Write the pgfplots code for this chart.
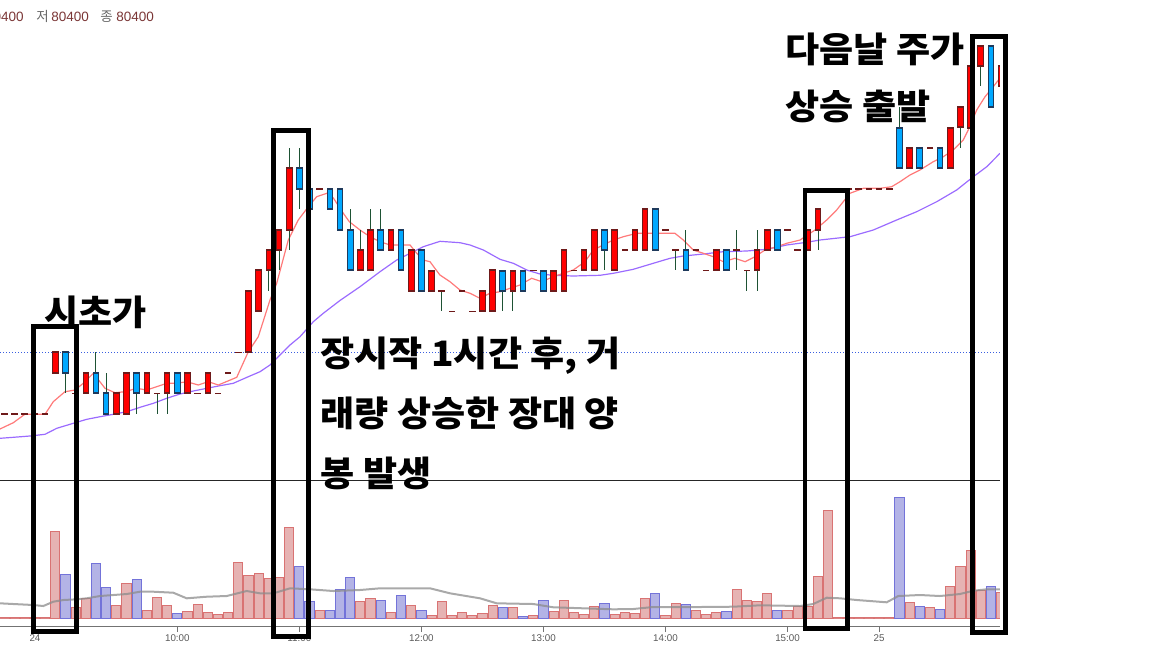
\documentclass[border=0pt]{standalone}
\usepackage{fontspec}
\setmainfont{Liberation Sans}
\newfontfamily\kr{Noto Sans CJK KR}
\newfontfamily\krw{Noto Sans CJK KR}[FakeStretch=1.06]
\usepackage{pgfplots}
\usepackage{pgfplotstable}
\pgfplotsset{compat=1.18}

\definecolor{upfill}{HTML}{FF0000}
\definecolor{upedge}{HTML}{6E1A1A}
\definecolor{dnfill}{HTML}{00A8FF}
\definecolor{dnedge}{HTML}{1E3A5C}
\definecolor{wick}{HTML}{1E5234}
\definecolor{flatc}{HTML}{6E1A1A}
\definecolor{maA}{HTML}{FF7A7A}
\definecolor{maB}{HTML}{9B6BFF}
\definecolor{vrf}{HTML}{E6B3B3}
\definecolor{vre}{HTML}{D97373}
\definecolor{vbf}{HTML}{B3B3E6}
\definecolor{vbe}{HTML}{7373D9}
\definecolor{refblue}{HTML}{3A5FE0}
\definecolor{numc}{HTML}{7A3535}

% volume pane lives below the price pane: base level and scale (price units per volume unit)
\def\vbase{79.39901}
\def\vsc{0.00489}

\pgfplotsset{
  wickplot/.style={draw=none, mark=none, forget plot,
    error bars/.cd, y dir=both, y explicit, error mark=none,
    error bar style={solid, draw=wick, line width=0.5pt}},
  bodyplot/.style 2 args={draw=none, mark=none, forget plot,
    error bars/.cd, y dir=both, y explicit, error mark=none,
    error bar style={solid, draw=#1, line width=#2}},
}

% prices in thousand won: index, open, high, low, close
\pgfplotstableread{
i o h l c
0 80.6 80.7 80.6 80.7
3 80.5 80.6 80.5 80.6
6 80.4 80.5 80.4 80.5
7 80.4 80.6 80.4 80.6
9 80.5 80.6 80.5 80.6
11 80.5 80.6 80.4 80.6
13 80.5 80.6 80.5 80.6
15 80.5 80.6 80.5 80.6
19 80.7 81.0 80.7 81.0
20 80.9 81.1 80.9 81.1
21 81.1 81.2 81.0 81.2
22 81.2 81.3 81.1 81.3
23 81.3 81.7 81.2 81.6
30 81.1 81.3 81.1 81.2
31 81.1 81.4 81.1 81.3
33 81.2 81.3 81.2 81.3
35 81.0 81.2 81.0 81.2
37 81.0 81.1 81.0 81.1
42 80.9 81.0 80.9 81.0
43 80.9 81.1 80.9 81.1
45 81.0 81.1 80.9 81.1
49 81.0 81.1 81.0 81.1
50 81.0 81.2 81.0 81.2
52 81.1 81.2 81.1 81.2
53 81.1 81.3 81.1 81.3
55 81.1 81.3 81.1 81.3
57 81.2 81.3 81.2 81.3
58 81.2 81.4 81.2 81.4
65 81.1 81.2 81.1 81.2
69 81.1 81.3 81.0 81.2
70 81.2 81.3 81.2 81.3
74 81.2 81.3 81.2 81.3
75 81.3 81.4 81.2 81.4
84 81.6 81.7 81.6 81.7
88 81.6 81.8 81.6 81.8
89 81.8 81.9 81.7 81.9
90 81.8 82.1 81.8 82.1
91 82.1 82.2 82.0 82.2
93 82.0 82.1 82.0 82.1
}\upCandles

\pgfplotstableread{
i o h l c
1 80.7 80.7 80.5 80.6
4 80.6 80.7 80.5 80.5
5 80.5 80.6 80.4 80.4
8 80.6 80.6 80.4 80.5
12 80.6 80.6 80.5 80.5
24 81.6 81.7 81.4 81.5
25 81.5 81.5 81.4 81.4
27 81.5 81.5 81.4 81.4
28 81.5 81.5 81.3 81.3
29 81.3 81.4 81.1 81.1
32 81.3 81.4 81.2 81.2
34 81.3 81.3 81.1 81.1
36 81.2 81.2 81.0 81.0
44 81.1 81.1 80.9 81.0
46 81.1 81.1 81.0 81.0
48 81.1 81.1 81.0 81.0
54 81.3 81.3 81.1 81.2
59 81.4 81.4 81.2 81.2
62 81.2 81.3 81.1 81.1
66 81.2 81.2 81.1 81.1
71 81.3 81.3 81.2 81.2
83 81.8 81.9 81.6 81.6
85 81.7 81.7 81.6 81.6
87 81.7 81.7 81.6 81.6
92 82.2 82.2 81.9 81.9
}\dnCandles

\pgfplotstableread{
i o h l c
-5 80.4 80.4 80.4 80.4
-4 80.4 80.4 80.4 80.4
-3 80.4 80.4 80.4 80.4
-2 80.4 80.4 80.4 80.4
-1 80.4 80.4 80.4 80.4
2 80.5 80.5 80.5 80.5
10 80.5 80.5 80.4 80.5
14 80.5 80.5 80.5 80.5
16 80.5 80.5 80.5 80.5
17 80.6 80.6 80.6 80.6
18 80.7 80.7 80.7 80.7
26 81.5 81.5 81.5 81.5
38 81.0 81.0 80.9 81.0
39 80.9 80.9 80.9 80.9
40 81.0 81.0 81.0 81.0
41 80.9 80.9 80.9 80.9
47 81.1 81.1 81.1 81.1
51 81.1 81.1 81.1 81.1
56 81.2 81.2 81.2 81.2
60 81.3 81.3 81.3 81.3
61 81.2 81.2 81.1 81.2
63 81.2 81.2 81.2 81.2
64 81.1 81.1 81.1 81.1
67 81.2 81.3 81.1 81.2
68 81.1 81.1 81.0 81.1
72 81.3 81.3 81.3 81.3
73 81.2 81.2 81.2 81.2
78 81.5 81.5 81.5 81.5
79 81.5 81.5 81.5 81.5
80 81.5 81.5 81.5 81.5
81 81.5 81.5 81.5 81.5
82 81.5 81.5 81.5 81.5
86 81.7 81.7 81.7 81.7
}\flatCandles

\pgfplotstableread{
i p
-5.44 80.3247
-4.13 80.3555
-3.00 80.3966
-1.01 80.3966
-0.20 80.4582
0.95 80.5071
1.94 80.5154
2.75 80.5482
3.74 80.5971
4.89 80.5237
5.87 80.5022
6.85 80.5071
8.00 80.5237
8.99 80.5154
9.97 80.5315
10.95 80.5482
11.94 80.5482
12.92 80.5560
14.06 80.5399
15.04 80.5560
16.03 80.5399
17.84 80.5775
18.98 80.7027
19.96 80.7760
21.11 80.9555
21.77 81.0372
22.91 81.2489
23.89 81.3467
24.88 81.4117
25.70 81.4606
26.69 81.4773
27.34 81.4543
28.32 81.3795
28.91 81.3384
29.96 81.2978
30.94 81.2650
31.93 81.2406
32.91 81.2245
34.88 81.2245
35.54 81.1839
36.18 81.1511
36.84 81.1428
37.82 81.0778
38.81 81.0450
39.79 81.0044
40.78 80.9883
41.76 80.9638
42.74 80.9883
43.73 80.9961
44.71 81.0127
45.69 81.0289
46.84 81.0616
47.83 81.0450
48.97 81.0694
49.95 81.0861
50.93 81.1022
52.08 81.1428
52.90 81.2000
53.88 81.2245
54.87 81.2489
55.85 81.2650
57.17 81.2817
60.93 81.2817
61.75 81.2489
62.73 81.2000
63.72 81.1839
64.70 81.1672
65.68 81.1428
66.83 81.1594
67.82 81.1428
68.80 81.1672
69.78 81.2000
70.93 81.2161
71.92 81.2328
73.23 81.2489
74.70 81.2978
75.85 81.3467
76.83 81.3956
78.14 81.4773
79.45 81.5017
81.09 81.5017
82.24 81.5095
83.06 81.5340
84.04 81.5668
85.02 81.5912
86.33 81.6318
87.32 81.6562
88.30 81.6890
89.28 81.7379
89.77 81.7868
90.60 81.8846
91.42 81.9496
92.23 81.9985
92.89 82.0411
}\maFive

\pgfplotstableread{
i p
-5.44 80.2792
-4.13 80.2841
-2.49 80.2905
-1.01 80.2988
0.14 80.3281
1.77 80.3526
3.09 80.3721
4.40 80.3848
5.70 80.3966
7.02 80.4093
8.33 80.4308
9.64 80.4504
10.95 80.4748
12.26 80.4958
13.57 80.5105
14.89 80.5237
16.19 80.5364
17.50 80.5482
19.14 80.5839
20.13 80.6049
21.11 80.6377
22.10 80.6866
23.08 80.7355
24.06 80.7760
25.37 80.8494
26.35 80.8905
27.99 80.9531
29.96 81.0205
31.93 81.0939
33.57 81.1511
34.88 81.1839
36.18 81.2161
37.83 81.2425
39.79 81.2357
40.78 81.2245
42.09 81.2000
43.73 81.1545
45.03 81.1350
46.35 81.1022
47.66 81.0826
48.97 81.0763
50.93 81.0729
53.56 81.0763
54.87 81.0861
56.83 81.1056
58.80 81.1350
60.44 81.1594
61.75 81.1707
63.72 81.1804
65.68 81.1917
67.98 81.1951
69.95 81.2034
71.92 81.2245
73.88 81.2377
75.19 81.2489
78.14 81.2650
80.43 81.2978
82.73 81.3467
84.70 81.3873
86.67 81.4362
88.63 81.4934
90.27 81.5584
91.59 81.6073
92.89 81.6729
}\maTwenty

\pgfplotstableread{
i v
-5 1
-4 1
-3 1
-2 1
-1 1
0 87.3
2 11.3
3 20
6 13
7 35
9 8.3
10 21
11 13
13 7.3
14 14
15 6.3
16 4
17 6.3
18 56.3
19 43
20 45
21 40
22 41
23 91
26 8.3
30 17
31 20.3
33 6
35 13
37 3
38 17
39 3
40 6
41 3
42 5
43 13
45 11
47 3
49 7
50 18
51 6
52 4
53 12
55 4
56 6
57 5
58 20
60 3
61 15
63 8
64 4
65 6
67 29
68 18
69 17
70 25
72 8
73 12.3
74 12.3
75 42
76 108
77 1
78 1
79 1
80 1
81 1
82 1
84 16
86 11
88 32
89 52
90 68
91 28
93 26
}\volUp

\pgfplotstableread{
i v
1 44
4 55
5 31
8 39
12 5
24 52
25 17
27 8.3
28 29
29 41
32 18
34 23.3
36 8
44 11
46 2
48 18
54 15
59 25
62 14
66 7
71 8
83 121
85 12
87 9
92 32
}\volDown

\pgfplotstableread{
i v
-5.44 15
-4.13 14.3
-2.16 13.3
-1.18 12.3
-0.20 16.6
0.79 18.3
2.10 19
3.09 20
4.40 22.3
5.70 23.3
7.02 24.3
8.33 26.6
9.64 26.6
11.60 25.6
12.92 20
14.89 21.6
16.85 22.3
18.82 27.3
20.13 25
21.44 25
23.08 30
25.05 29
27.34 27.3
29.96 28.3
31.93 30
34.88 30
36.84 30
38.81 25
41.76 20
43.40 15
47.00 14.3
48.97 11
51.92 10
54.87 9
56.83 9.3
58.80 11.3
63.39 11.3
66.67 11.6
69.29 13
73.23 12.3
74.53 14.3
75.85 20.6
77.16 20
78.80 18.3
81.75 16
82.89 22.3
85.02 23.3
86.99 22.3
88.96 24.3
90.27 27.6
91.59 29
92.89 29
}\volMA

\begin{document}
\begin{tikzpicture}[x=1pt,y=1pt]

\begin{axis}[name=ax, at={(0,0)}, anchor=north west, scale only axis,
  width=500pt, height=313pt,
  xmin=-5.4376, xmax=92.89, ymin=79.3614, ymax=82.4225,
  axis x line=bottom, axis y line=none,
  axis line style={-, draw=black!55, line width=0.5pt},
  xtick={-2,12,24,36,48,60,72,81},
  xticklabels={\mbox{24},\mbox{10:00},\mbox{11:00},\mbox{12:00},\mbox{13:00},\mbox{14:00},\mbox{15:00},\mbox{25}},
  tick align=outside, major tick length=3pt,
  tick style={draw=black!55, line width=0.5pt},
  xticklabel style={font=\fontsize{4.9}{6}\selectfont, text=black!65, inner sep=1pt},
  ytick=\empty, clip=true]
  % volume pane
  \addplot[draw=none, mark=none, forget plot, error bars/.cd, y dir=both, y explicit, error mark=none,
    error bar style={solid, draw=vre, line width=5.085pt}]
    table[x=i, y expr={\vbase+0.5*\vsc*\thisrow{v}}, y error expr={0.5*\vsc*\thisrow{v}+0.00245}] {\volUp};
  \addplot[draw=none, mark=none, forget plot, error bars/.cd, y dir=both, y explicit, error mark=none,
    error bar style={solid, draw=vrf, line width=4.085pt}]
    table[x=i, y expr={\vbase+0.5*\vsc*\thisrow{v}}, y error expr={0.5*\vsc*\thisrow{v}-0.00245}] {\volUp};
  \addplot[draw=none, mark=none, forget plot, error bars/.cd, y dir=both, y explicit, error mark=none,
    error bar style={solid, draw=vbe, line width=5.085pt}]
    table[x=i, y expr={\vbase+0.5*\vsc*\thisrow{v}}, y error expr={0.5*\vsc*\thisrow{v}+0.00245}] {\volDown};
  \addplot[draw=none, mark=none, forget plot, error bars/.cd, y dir=both, y explicit, error mark=none,
    error bar style={solid, draw=vbf, line width=4.085pt}]
    table[x=i, y expr={\vbase+0.5*\vsc*\thisrow{v}}, y error expr={0.5*\vsc*\thisrow{v}-0.00245}] {\volDown};
  \addplot[black!45, opacity=0.75, line width=1pt] table[x=i, y expr={\vbase+\vsc*\thisrow{v}}] {\volMA};
  % pane separator
  \addplot[black!85, line width=0.5pt] coordinates {(-6,80.0753) (94,80.0753)};
  % price pane
  \addplot[refblue, line width=0.5pt, dash pattern=on 0.6pt off 0.9pt] coordinates {(-6,80.7) (94,80.7)};
  \addplot[maB, line width=0.6pt] table[x=i,y=p] {\maTwenty};
  \addplot[maA, line width=0.6pt] table[x=i,y=p] {\maFive};
  % wicks
  \addplot[wickplot] table[x=i, y expr={(\thisrow{h}+\thisrow{l})/2}, y error expr={(\thisrow{h}-\thisrow{l})/2}] {\upCandles};
  \addplot[wickplot] table[x=i, y expr={(\thisrow{h}+\thisrow{l})/2}, y error expr={(\thisrow{h}-\thisrow{l})/2}] {\dnCandles};
  \addplot[wickplot] table[x=i, y expr={(\thisrow{h}+\thisrow{l})/2}, y error expr={(\thisrow{h}-\thisrow{l})/2}] {\flatCandles};
  % bodies: edge then fill
  \addplot[bodyplot={upedge}{3.3pt}] table[x=i, y expr={(\thisrow{o}+\thisrow{c})/2}, y error expr={(\thisrow{c}-\thisrow{o})/2+0.0049}] {\upCandles};
  \addplot[bodyplot={upfill}{2.3pt}] table[x=i, y expr={(\thisrow{o}+\thisrow{c})/2}, y error expr={(\thisrow{c}-\thisrow{o})/2-0.0049}] {\upCandles};
  \addplot[bodyplot={dnedge}{3.3pt}] table[x=i, y expr={(\thisrow{o}+\thisrow{c})/2}, y error expr={(\thisrow{o}-\thisrow{c})/2+0.0049}] {\dnCandles};
  \addplot[bodyplot={dnfill}{2.3pt}] table[x=i, y expr={(\thisrow{o}+\thisrow{c})/2}, y error expr={(\thisrow{o}-\thisrow{c})/2-0.0049}] {\dnCandles};
  \addplot[bodyplot={flatc}{3.3pt}] table[x=i, y=c, y error expr={0.0025}] {\flatCandles};
\end{axis}

\begin{scope}[shift={(ax.north west)}, yshift=-324pt]
% annotation boxes
\draw[black, line width=2.35pt] (16.75,160.75) rectangle (38.25,8.25);
\draw[black, line width=2.35pt] (136.75,258.75) rectangle (154.1,5.65);
\draw[black, line width=2.35pt] (402.5,228.75) rectangle (423.6,9.75);
\draw[black, line width=2.35pt] (486.4,305.75) rectangle (502.9,7.75);

% annotation text
\begin{scope}[every node/.style={anchor=base west, inner sep=0pt, font=\krw\bfseries\fontsize{17.5}{21}\selectfont}]
\node at (22,161.5) {시초가};
\node at (160,141) {장시작 1시간 후, 거};
\node at (160,111) {래량 상승한 장대 양};
\node at (160,81) {봉 발생};
\node at (392.5,293) {다음날 주가};
\node at (392.5,264.5) {상승 출발};
\end{scope}

% header
\begin{scope}[every node/.style={inner sep=0pt, font=\fontsize{6.75}{8}\selectfont}]
\node[anchor=base east, text=numc] at (12,313.5) {80400};
\node[anchor=base west, text=black!60, font=\kr\fontsize{6.75}{8}\selectfont] at (18,313.5) {저};
\node[anchor=base west, text=numc] at (25.5,313.5) {80400};
\node[anchor=base west, text=black!60, font=\kr\fontsize{6.75}{8}\selectfont] at (50,313.5) {종};
\node[anchor=base west, text=numc] at (58,313.5) {80400};
\end{scope}

\pgfresetboundingbox
\path[use as bounding box] (0,0) rectangle (576,324);
\end{scope}
\end{tikzpicture}
\end{document}
